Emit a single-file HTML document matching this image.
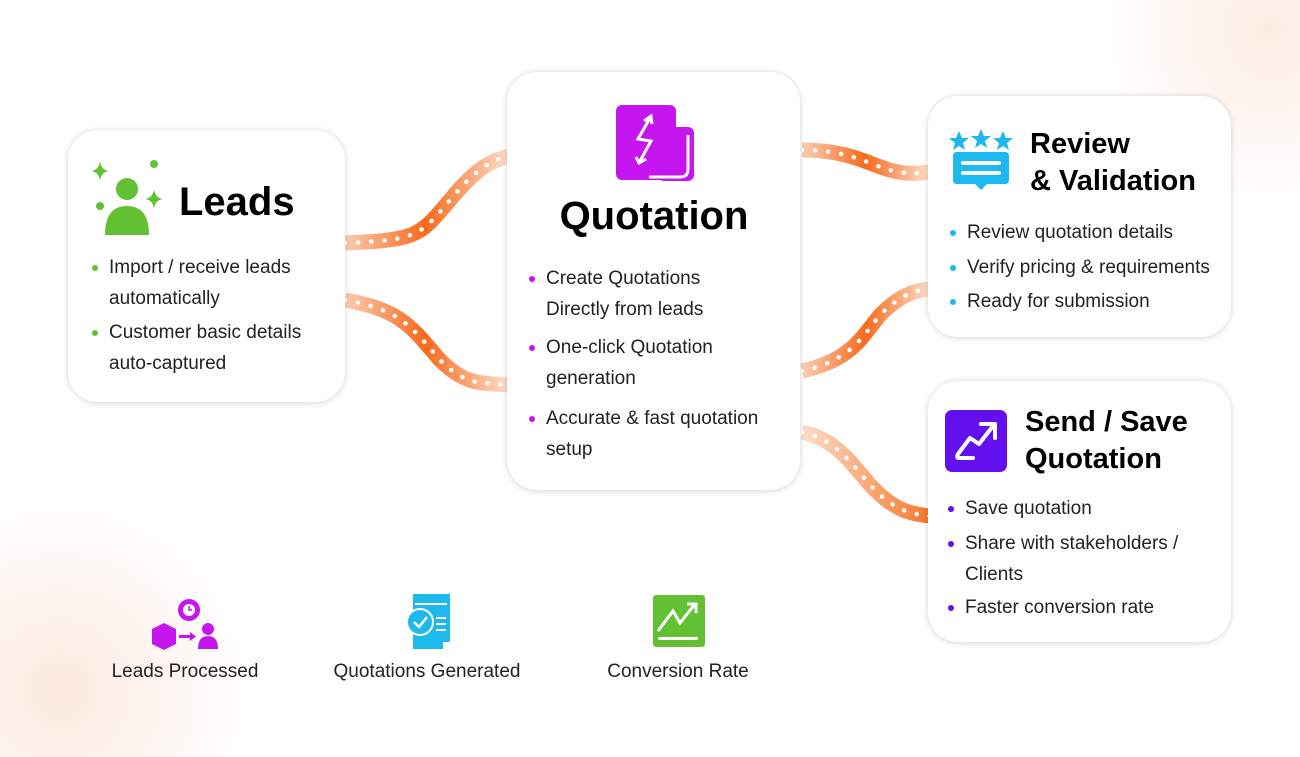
<!DOCTYPE html>
<html><head><meta charset="utf-8"><style>
*{margin:0;padding:0;box-sizing:border-box}
html,body{width:1300px;height:757px;overflow:hidden}
body{font-family:"Liberation Sans",Arial,sans-serif;color:#111;position:relative;
background:radial-gradient(circle 170px at 1270px 30px,rgba(250,200,175,.35),rgba(255,255,255,0)),radial-gradient(circle 190px at 60px 690px,rgba(250,200,175,.4),rgba(255,255,255,0)),#fff}
.card{position:absolute;background:#fff;border-radius:30px;box-shadow:0 0 6px rgba(0,0,0,.12),0 2px 10px rgba(0,0,0,.06)}
.t{position:absolute;white-space:nowrap}
ul{list-style:none;position:absolute}
li{position:relative;font-size:19px;line-height:31px;color:#222}
li::before{content:"";position:absolute;left:-17px;top:13px;width:6px;height:6px;border-radius:50%;background:var(--c)}
.lab{position:absolute;font-size:19px;color:#222;transform:translateX(-50%);white-space:nowrap}
</style></head><body>

<svg width="1300" height="757" style="position:absolute;left:0;top:0">
<defs>
<linearGradient id="g1" gradientUnits="userSpaceOnUse" x1="340" y1="0" x2="510" y2="0"><stop offset="0" stop-color="#fcd2b8"/><stop offset=".5" stop-color="#f76a1c"/><stop offset="1" stop-color="#fde0cc"/></linearGradient>
<linearGradient id="g2" gradientUnits="userSpaceOnUse" x1="800" y1="0" x2="930" y2="0"><stop offset="0" stop-color="#fcd2b8"/><stop offset=".5" stop-color="#f76a1c"/><stop offset="1" stop-color="#fde0cc"/></linearGradient>
<linearGradient id="g3" gradientUnits="userSpaceOnUse" x1="800" y1="0" x2="930" y2="0"><stop offset="0" stop-color="#fde0cc"/><stop offset="1" stop-color="#f7772c"/></linearGradient>
</defs>
<g fill="none" stroke-width="15">
<path d="M345 243 C420 240 420 235 450 200 C475 170 490 160 510 156" stroke="url(#g1)"/>
<path d="M345 300 C400 310 410 325 440 360 C465 385 480 383 510 385" stroke="url(#g1)"/>
<path d="M802 150 C850 150 870 165 890 170 C905 174 915 174 930 172" stroke="url(#g2)"/>
<path d="M802 371 C850 360 860 340 880 315 C900 295 915 290 930 289" stroke="url(#g2)"/>
<path d="M802 432 C840 440 855 470 875 490 C895 510 910 514 930 516" stroke="url(#g3)"/>
</g>
<g fill="none" stroke="#fff" stroke-width="4.5" stroke-linecap="round" stroke-dasharray="0.1 13">
<path d="M345 243 C420 240 420 235 450 200 C475 170 490 160 510 156"/>
<path d="M345 300 C400 310 410 325 440 360 C465 385 480 383 510 385"/>
<path d="M802 150 C850 150 870 165 890 170 C905 174 915 174 930 172"/>
<path d="M802 371 C850 360 860 340 880 315 C900 295 915 290 930 289"/>
<path d="M802 432 C840 440 855 470 875 490 C895 510 910 514 930 516"/>
</g>
</svg>

<!-- Leads -->
<div class="card" style="left:68px;top:130px;width:277px;height:272px"></div>
<svg style="position:absolute;left:90px;top:158px" width="75" height="80">
<g fill="#62c132">
<path d="M10 3 Q11 12 19 13 Q11 14 10 23 Q9 14 1 13 Q9 12 10 3Z"/>
<path d="M64 31 Q65 40 73 41 Q65 42 64 51 Q63 42 55 41 Q63 40 64 31Z"/>
<circle cx="64" cy="6" r="4"/><circle cx="10" cy="48" r="4"/>
<circle cx="37" cy="31" r="11"/>
<path d="M15 77 Q15 48 37 48 Q59 48 59 77Z"/>
</g></svg>
<div class="t" style="left:179px;top:180px;font-size:40px;font-weight:bold;color:#000">Leads</div>
<ul style="left:109px;top:252px;--c:#62c132"><li>Import / receive leads<br>automatically</li><li style="margin-top:3px">Customer basic details<br>auto-captured</li></ul>

<!-- Quotation -->
<div class="card" style="left:507px;top:72px;width:293px;height:418px"></div>
<svg style="position:absolute;left:616px;top:105px" width="80" height="78">
<rect x="0" y="0" width="60" height="75" rx="6" fill="#c516f0"/>
<rect x="42" y="22" width="36" height="54" rx="6" fill="#c516f0"/>
<path d="M34 13 L22 34 L35 36 L24 56" stroke="#fff" stroke-width="3" fill="none"/>
<path d="M28 16 L35 11 L36 19 M20 52 L23 58 L30 54" stroke="#fff" stroke-width="3" fill="none"/>
<path d="M33 72 H64 Q72 72 72 64 V30" stroke="#fff" stroke-width="3" fill="none"/>
</svg>
<div class="t" style="left:654px;top:194px;transform:translateX(-50%);font-size:40px;font-weight:bold;color:#000">Quotation</div>
<ul style="left:546px;top:263px;--c:#c516f0"><li>Create Quotations<br>Directly from leads</li><li style="margin-top:7px">One-click Quotation<br>generation</li><li style="margin-top:9px">Accurate &amp; fast quotation<br>setup</li></ul>

<!-- Review -->
<div class="card" style="left:928px;top:96px;width:303px;height:241px"></div>
<svg style="position:absolute;left:948px;top:128px" width="66" height="66">
<g fill="#1cb8ee">
<polygon points="11,3 14,10 21,10 15,15 17,22 11,18 5,22 7,15 1,10 8,10"/>
<polygon points="33,1 36,8 43,8 37,13 39,20 33,16 27,20 29,13 23,8 30,8"/>
<polygon points="55,3 58,10 65,10 59,15 61,22 55,18 49,22 51,15 45,10 52,10"/>
<path d="M9 24 H57 Q61 24 61 28 V52 Q61 56 57 56 H39 L33 62 L27 56 H9 Q5 56 5 52 V28 Q5 24 9 24Z"/>
</g>
<rect x="13" y="33" width="40" height="4" rx="2" fill="#fff"/><rect x="13" y="43" width="40" height="4" rx="2" fill="#fff"/>
</svg>
<div class="t" style="left:1030px;top:126px;font-size:29px;font-weight:bold;line-height:37px;color:#000">Review<br>&amp; Validation</div>
<ul style="left:967px;top:217px;--c:#1cb8ee"><li>Review quotation details</li><li style="margin-top:4px">Verify pricing &amp; requirements</li><li style="margin-top:3px">Ready for submission</li></ul>

<!-- Send -->
<div class="card" style="left:928px;top:381px;width:303px;height:261px"></div>
<svg style="position:absolute;left:945px;top:410px" width="63" height="63">
<rect width="62" height="62" rx="7" fill="#6210ee"/>
<path d="M28 48 H14 Q11 48 13 44 L25 28 L34 34 L48 16" stroke="#fff" stroke-width="4" fill="none" stroke-linecap="round" stroke-linejoin="round"/>
<path d="M36 14 H50 V28" stroke="#fff" stroke-width="4" fill="none" stroke-linecap="round" stroke-linejoin="round"/>
</svg>
<div class="t" style="left:1025px;top:404px;font-size:29px;font-weight:bold;line-height:37px;color:#000">Send / Save<br>Quotation</div>
<ul style="left:965px;top:493px;--c:#6210ee"><li>Save quotation</li><li style="margin-top:4px">Share with stakeholders /<br>Clients</li><li style="margin-top:2px">Faster conversion rate</li></ul>

<!-- Stats -->
<svg style="position:absolute;left:152px;top:594px" width="70" height="56">
<g fill="#c516f0">
<circle cx="37" cy="16" r="11"/>
<path d="M0 35 L12 29 L24 35 V50 L12 56 L0 50Z"/>
<rect x="27" y="41" width="11" height="3"/><polygon points="38,38 44,42.5 38,47"/>
<circle cx="56" cy="35" r="6"/><path d="M46 55 Q46 42 56 42 Q66 42 66 55Z"/>
</g>
<circle cx="37" cy="16" r="6" fill="#fff"/><path d="M37 12 V16 H40" stroke="#c516f0" stroke-width="1.5" fill="none"/>
</svg>
<svg style="position:absolute;left:403px;top:594px" width="50" height="55">
<path d="M10 0 H47 V47 L40 55 H10Z" fill="#1cb8ee"/>
<path d="M40 55 V48 H47" fill="#fff"/>
<circle cx="17" cy="28" r="13" fill="#1cb8ee" stroke="#fff" stroke-width="2"/>
<path d="M11 28 L16 33 L24 23" stroke="#fff" stroke-width="2.5" fill="none"/>
<g stroke="#fff" stroke-width="2"><line x1="33" y1="24" x2="43" y2="24"/><line x1="33" y1="30" x2="43" y2="30"/><line x1="33" y1="36" x2="43" y2="36"/><line x1="12" y1="10" x2="44" y2="10"/></g>
</svg>
<svg style="position:absolute;left:653px;top:595px" width="53" height="53">
<rect width="52" height="52" rx="3" fill="#62c132"/>
<path d="M5 36 L20 16 L27 28 L42 9" stroke="#fff" stroke-width="3" fill="none"/>
<path d="M34 9 H43 V18" stroke="#fff" stroke-width="3" fill="none"/>
<rect x="5" y="42" width="40" height="3" rx="1.5" fill="#fff"/>
</svg>
<div class="lab" style="left:185px;top:661px">Leads Processed</div>
<div class="lab" style="left:427px;top:661px">Quotations Generated</div>
<div class="lab" style="left:678px;top:661px">Conversion Rate</div>
</body></html>
